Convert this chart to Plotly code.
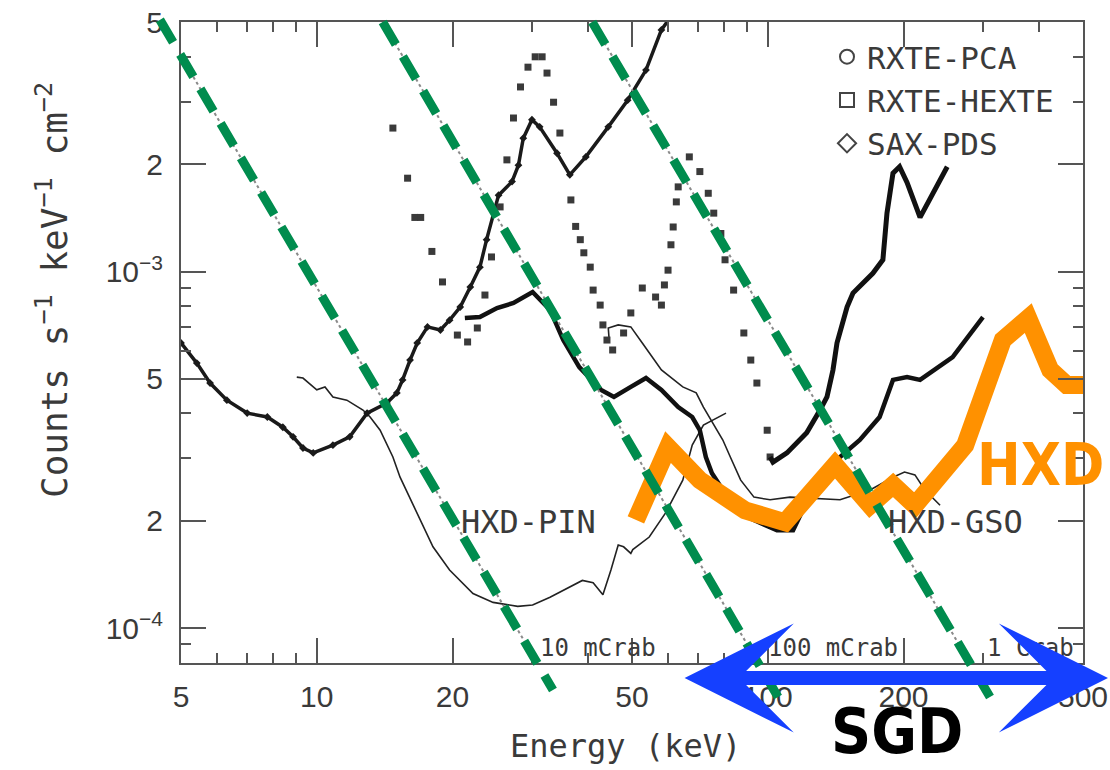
import math
import plotly.graph_objects as go

# ---------------- data (energy in keV, counts s^-1 keV^-1 cm^-2) ----------------
pca_E = [5.0, 5.42, 5.80, 6.32, 7.01, 7.77, 8.41, 8.86, 9.32, 9.82, 10.86, 11.83, 12.93, 14.3,
         15.05, 15.5, 16.1, 16.7, 17.6, 18.8, 19.7, 20.8, 21.9, 23.0, 23.8, 25.3, 27.1, 28.0,
         28.7, 30.0, 31.2, 34.1, 36.4, 39.5, 44.3, 48.9, 53.7, 58.1, 61.3]
pca_C = [6.31e-4, 5.54e-4, 4.87e-4, 4.36e-4, 4.01e-4, 3.91e-4, 3.66e-4, 3.44e-4, 3.20e-4, 3.10e-4,
         3.26e-4, 3.44e-4, 4.01e-4, 4.28e-4, 4.57e-4, 4.97e-4, 5.65e-4, 6.31e-4, 7.00e-4, 6.86e-4,
         7.31e-4, 7.96e-4, 9.06e-4, 1.03e-3, 1.23e-3, 1.64e-3, 1.79e-3, 1.99e-3, 2.37e-3, 2.67e-3,
         2.55e-3, 2.15e-3, 1.87e-3, 2.10e-3, 2.55e-3, 3.03e-3, 3.68e-3, 4.77e-3, 5.25e-3]

hexte_E = [14.75, 15.9, 16.5, 17.0, 18.0, 19.0, 20.5, 21.6, 22.7, 23.6, 24.4, 25.5, 26.4, 27.3,
           28.3, 29.4, 30.5, 31.6, 32.4, 33.5, 34.6, 36.6, 37.5, 38.4, 39.1, 40.4, 41.0, 42.5,
           43.1, 44.0, 45.3, 47.9, 49.7, 52.7, 56.4, 58.1, 59.0, 60.1, 61.0, 61.7, 62.7, 63.3,
           67.0, 70.7, 73.8, 75.9, 78.7, 80.4, 84.0, 88.5, 91.7, 94.6, 99.7, 101.2]
hexte_C = [2.53e-3, 1.83e-3, 1.42e-3, 1.42e-3, 1.14e-3, 9.36e-4, 6.64e-4, 6.35e-4, 6.95e-4, 8.60e-4,
           1.10e-3, 1.52e-3, 2.06e-3, 2.70e-3, 3.30e-3, 3.75e-3, 4.01e-3, 4.01e-3, 3.61e-3, 2.99e-3,
           2.45e-3, 1.59e-3, 1.34e-3, 1.23e-3, 1.13e-3, 1.03e-3, 8.88e-4, 8.06e-4, 7.09e-4, 6.43e-4,
           6.03e-4, 6.73e-4, 7.66e-4, 9.0e-4, 8.49e-4, 8.06e-4, 9.18e-4, 1.01e-3, 1.19e-3, 1.335e-3,
           1.57e-3, 1.73e-3, 2.10e-3, 1.91e-3, 1.66e-3, 1.46e-3, 1.28e-3, 1.08e-3, 8.88e-4, 6.73e-4,
           5.65e-4, 4.87e-4, 3.59e-4, 3.02e-4]
hexte_hi_E = [101.2, 102.7, 110.3, 122, 130.6, 135.3, 139.5, 142.4, 149.9, 154.5, 171, 180,
              183.8, 189.5, 196, 203.6, 217.6, 232, 250]
hexte_hi_C = [3.02e-4, 2.92e-4, 3.10e-4, 3.53e-4, 4.09e-4, 4.45e-4, 5.30e-4, 6.31e-4, 7.96e-4,
              8.71e-4, 9.9e-4, 1.08e-3, 1.46e-3, 1.89e-3, 1.97e-3, 1.78e-3, 1.42e-3, 1.66e-3, 1.97e-3]

pds_E = [21.3, 23.0, 25.1, 27.3, 30.1, 32.9, 35.2, 38.2, 42.7, 45.6, 49.7, 53.7, 58.1, 63.3, 68.0,
         70.7, 72.9, 75.2, 79.5, 88.5, 98.2, 104.8, 113.8, 124, 144.6, 160, 177, 189.5, 203.6,
         217.6, 257, 300]
pds_C = [7.41e-4, 7.46e-4, 7.91e-4, 8.17e-4, 8.77e-4, 7.81e-4, 6.43e-4, 5.40e-4, 4.66e-4, 4.45e-4,
         4.75e-4, 5.03e-4, 4.66e-4, 4.17e-4, 3.91e-4, 3.59e-4, 3.02e-4, 2.72e-4, 2.44e-4, 2.07e-4,
         1.95e-4, 1.88e-4, 1.88e-4, 2.36e-4, 3.02e-4, 3.37e-4, 3.91e-4, 4.97e-4, 5.06e-4, 4.97e-4,
         5.76e-4, 7.46e-4]

pin_E = [9.03, 9.32, 10.0, 10.43, 10.86, 11.66, 12.66, 13.13, 13.82, 14.75, 15.3, 16.7, 18.1, 19.7,
         22.2, 24.6, 27.9, 30.1, 32.9, 38.8, 41.0, 43.1, 44.9, 46.6, 47.9, 49.7, 50.2, 54.6, 59.3,
         64.8, 68.0, 72.0, 80.8]
pin_C = [5.06e-4, 5.03e-4, 4.66e-4, 4.75e-4, 4.45e-4, 4.36e-4, 4.09e-4, 3.91e-4, 3.59e-4, 3.02e-4,
         2.65e-4, 2.10e-4, 1.69e-4, 1.455e-4, 1.25e-4, 1.18e-4, 1.15e-4, 1.16e-4, 1.22e-4, 1.36e-4,
         1.34e-4, 1.24e-4, 1.455e-4, 1.71e-4, 1.69e-4, 1.62e-4, 1.66e-4, 1.80e-4, 2.10e-4, 2.60e-4,
         3.26e-4, 3.71e-4, 4.01e-4]

gso_E = [44.5, 44.3, 46.6, 49.7, 52.7, 58.1, 64.8, 69.4, 72.0, 76.4, 79.5, 82.6, 87.1, 93.2, 101.2,
         112, 144.6, 168.6, 189.5, 201, 212, 223, 241]
gso_C = [6.43e-4, 6.95e-4, 7.09e-4, 7.00e-4, 6.31e-4, 5.30e-4, 4.75e-4, 4.57e-4, 4.17e-4, 3.66e-4,
         3.37e-4, 3.02e-4, 2.60e-4, 2.33e-4, 2.29e-4, 2.33e-4, 2.29e-4, 2.44e-4, 2.65e-4, 2.74e-4,
         2.69e-4, 2.44e-4, 2.21e-4]

hxd_E = [51.0, 60.1, 70.7, 89.0, 109.2, 141, 168.6, 189.6, 212, 274, 332, 378, 423, 460, 500]
hxd_C = [2.01e-4, 3.22e-4, 2.60e-4, 2.14e-4, 1.98e-4, 2.87e-4, 2.21e-4, 2.52e-4, 2.21e-4, 3.26e-4,
         6.43e-4, 7.41e-4, 5.30e-4, 4.81e-4, 4.81e-4]

crab_labels = ["10 mCrab", "100 mCrab", "1 Crab"]
crab_E_lo = [4.49, 14.0, 40.8]
crab_E_hi = [33.4, 105.4, 311]
crab_C_top = [5.09e-3, 5.02e-3, 5.02e-3]
crab_C_bot = [6.70e-5, 6.40e-5, 6.40e-5]

sgd_E = [64.9, 568]
sgd_C = 7.24e-5

x_tickvals = [5, 10, 20, 50, 100, 200, 500]
x_ticktext = ["5", "10", "20", "50", "100", "200", "500"]
x_minor = [6, 7, 8, 9, 30, 40, 60, 70, 80, 90, 300, 400]
y_tickvals = [1e-4, 2e-4, 5e-4, 1e-3, 2e-3, 5e-3]
y_ticktext = ["10<sup>−4</sup>", "2", "5", "10<sup>−3</sup>", "2", "5"]
y_minor = [9e-5, 3e-4, 4e-4, 6e-4, 7e-4, 8e-4, 9e-4, 3e-3, 4e-3]

# ---------------- layout geometry ----------------
W, H = 1110, 770
L, R, T, B = 181, 1083, 22, 663
xr = [math.log10(5), math.log10(500)]
yr = [-4.0982, -2.2992]
sx = (xr[1] - xr[0]) / (R - L)
sy = (yr[1] - yr[0]) / (B - T)
x2r = [xr[0] - L * sx, xr[1] + (W - R) * sx]
y2r = [yr[0] - (H - B) * sy, yr[1] + T * sy]


def px(x):
    return x / W


def py(y):
    return 1 - y / H


INK = "#3a3a3a"
AX = "#555555"
MONO = "DejaVu Sans Mono"
COND = "Liberation Sans Narrow, DejaVu Sans Condensed, sans-serif"

fig = go.Figure()

# black background curves
fig.add_trace(go.Scatter(x=pin_E, y=pin_C, mode="lines", line=dict(color="#222", width=1.6),
                         showlegend=False, name="HXD-PIN"))
fig.add_trace(go.Scatter(x=gso_E, y=gso_C, mode="lines", line=dict(color="#222", width=1.6),
                         showlegend=False, name="HXD-GSO"))
fig.add_trace(go.Scatter(x=pca_E, y=pca_C, mode="lines+markers",
                         line=dict(color="#1a1a1a", width=3.5),
                         marker=dict(symbol="diamond", size=6, color="#1a1a1a"),
                         showlegend=False, name="RXTE-PCA"))
fig.add_trace(go.Scatter(x=hexte_E, y=hexte_C, mode="markers",
                         marker=dict(symbol="square", size=7, color="#3a3a3a"),
                         showlegend=False, name="RXTE-HEXTE"))
fig.add_trace(go.Scatter(x=hexte_hi_E, y=hexte_hi_C, mode="lines",
                         line=dict(color="#111", width=5),
                         showlegend=False, name="RXTE-HEXTE"))
fig.add_trace(go.Scatter(x=pds_E, y=pds_C, mode="lines", line=dict(color="#111", width=4.5),
                         showlegend=False, name="SAX-PDS"))

# original (grey dotted) Crab lines
for i in range(len(crab_labels)):
    fig.add_trace(go.Scatter(x=[crab_E_lo[i], crab_E_hi[i]], y=[crab_C_top[i], crab_C_bot[i]],
                             mode="lines", line=dict(color="#8a8a8a", width=2, dash="dot"),
                             showlegend=False, hoverinfo="skip"))

# HXD sensitivity (orange)
fig.add_trace(go.Scatter(x=hxd_E, y=hxd_C, mode="lines", line=dict(color="#FF9100", width=18),
                         showlegend=False, name="HXD"))

# legend entries
for nm, sym in [("RXTE-PCA", "circle-open"), ("RXTE-HEXTE", "square-open"), ("SAX-PDS", "diamond-open")]:
    fig.add_trace(go.Scatter(x=[None], y=[None], mode="markers", name=nm,
                             marker=dict(symbol=sym, size=14, color="#444",
                                         line=dict(width=2, color="#444"))))

# green overlay Crab lines (full-figure overlay axes)
for i in range(len(crab_labels)):
    fig.add_trace(go.Scatter(x=[crab_E_lo[i], crab_E_hi[i]], y=[crab_C_top[i], crab_C_bot[i]],
                             mode="lines", xaxis="x2", yaxis="y2",
                             line=dict(color="#008C4E", width=9, dash="26px,14px"),
                             showlegend=False, hoverinfo="skip"))

axis_common = dict(type="log", showgrid=False, zeroline=False, showline=True, linecolor=AX,
                   linewidth=2, mirror="ticks", ticks="inside", ticklen=25, tickwidth=2,
                   tickcolor=AX, tickmode="array", automargin=False,
                   tickfont=dict(family="Liberation Sans, Arial", size=30, color=INK))

fig.update_layout(
    width=W, height=H, margin=dict(l=0, r=0, t=0, b=0, autoexpand=False),
    paper_bgcolor="white", plot_bgcolor="rgba(0,0,0,0)",
    xaxis=dict(axis_common, range=xr, domain=[px(L), px(R)], anchor="y",
               tickvals=x_tickvals, ticktext=x_ticktext, ticklabelstandoff=6,
               minor=dict(tickmode="array", tickvals=x_minor, ticklen=10, tickwidth=2,
                          tickcolor=AX, ticks="inside")),
    yaxis=dict(axis_common, range=yr, domain=[py(B), py(T)], anchor="x",
               tickvals=y_tickvals, ticktext=y_ticktext, ticklabelstandoff=10,
               minor=dict(tickmode="array", tickvals=y_minor, ticklen=10, tickwidth=2,
                          tickcolor=AX, ticks="inside")),
    xaxis2=dict(type="log", range=x2r, domain=[0, 1], anchor="y2", visible=False,
                automargin=False),
    yaxis2=dict(type="log", range=y2r, domain=[0, 1], anchor="x2", visible=False,
                automargin=False),
    showlegend=True,
    legend=dict(x=px(827), y=py(30), xanchor="left", yanchor="top",
                font=dict(family=MONO, size=31, color=INK), bgcolor="rgba(0,0,0,0)",
                tracegroupgap=0),
)


def label(text, x, y, size, family=MONO, color=INK, angle=0):
    return dict(text=text, xref="paper", yref="paper", x=px(x), y=py(y), showarrow=False,
                xanchor="center", yanchor="middle", textangle=angle,
                font=dict(family=family, size=size, color=color))


ann = [
    label("Counts s<sup>−1</sup> keV<sup>−1</sup> cm<sup>−2</sup>", 52, 290, 36, angle=-90),
    label("Energy (keV)", 625, 746, 32),
    label("HXD-PIN", 528, 522, 32),
    label("HXD-GSO", 955, 522, 32),
]
for lab, cx in zip(crab_labels, [598, 833, 1030]):
    ann.append(label(lab, cx, 648, 24))
ann.append(label("<b>HXD</b>", 1040, 465, 58, family=COND, color="#FF9100"))
ann.append(label("<b>SGD</b>", 897, 731, 62, family=COND, color="#000000"))
# SGD double arrow
ann.append(dict(text="", xref="x2", yref="y2", axref="x2", ayref="y2",
                x=math.log10(sgd_E[1]), y=math.log10(sgd_C),
                ax=math.log10(sgd_E[0]), ay=math.log10(sgd_C),
                showarrow=True, arrowside="end+start", arrowhead=3, startarrowhead=3,
                arrowwidth=14, arrowsize=1.3, startarrowsize=1.3, arrowcolor="#1540FF"))
fig.update_layout(annotations=ann)

fig.write_html("out.html")
